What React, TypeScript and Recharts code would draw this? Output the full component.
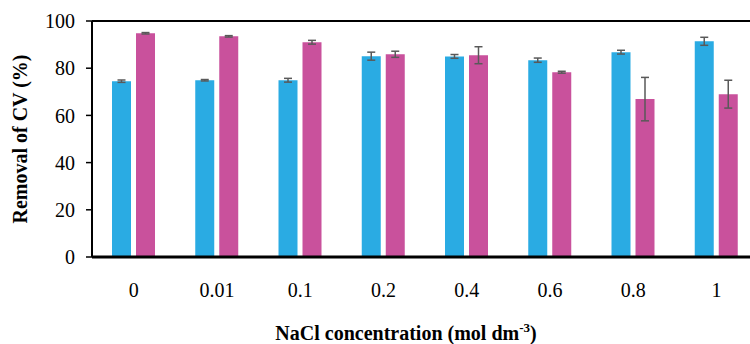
import React from 'react';
import {
  BarChart,
  Bar,
  XAxis,
  YAxis,
  ErrorBar,
  ReferenceLine,
  Label,
} from 'recharts';

// NaCl concentrations (mol dm-3)
const concentrations = ['0', '0.01', '0.1', '0.2', '0.4', '0.6', '0.8', '1'];

// removal of CV (%) for the two series, with their error bars
const blueValues = [74.5, 74.9, 74.9, 85.1, 85.0, 83.4, 86.8, 91.4];
const blueErrors = [0.5, 0.3, 0.8, 1.7, 0.8, 0.9, 0.8, 1.7];
const pinkValues = [94.8, 93.5, 91.0, 85.9, 85.5, 78.3, 66.9, 69.0];
const pinkErrors = [0.3, 0.3, 0.8, 1.3, 3.6, 0.4, 9.2, 5.9];

const yTicks = [0, 20, 40, 60, 80, 100];

const data = concentrations.map((c, i) => ({
  name: c,
  blue: blueValues[i],
  blueErr: blueErrors[i],
  pink: pinkValues[i],
  pinkErr: pinkErrors[i],
}));

const FONT = '"Liberation Serif", "Times New Roman", serif';

function XTitle(props: any) {
  return (
    <text
      x={406}
      y={340}
      textAnchor="middle"
      fontFamily={FONT}
      fontSize={20}
      fontWeight="bold"
      fill="#000"
    >
      NaCl concentration (mol dm
      <tspan dy={-8} fontSize={13}>
        -3
      </tspan>
      <tspan dy={8}>)</tspan>
    </text>
  );
}

export default function App() {
  return (
    <div
      style={{
        position: 'fixed',
        top: 0,
        left: 0,
        width: 750,
        height: 344,
        overflow: 'hidden',
        background: '#fff',
      }}
    >
      <BarChart
        width={768}
        height={344}
        data={data}
        margin={{ top: 21, right: 10, left: 0, bottom: 57 }}
        barSize={19}
        barGap={5}
      >
        <XAxis
          dataKey="name"
          height={30}
          tickLine={false}
          axisLine={{ stroke: '#000', strokeWidth: 3 }}
          tick={{ fontSize: 20, fill: '#000', fontFamily: FONT }}
          tickMargin={20}
        >
          <Label content={<XTitle />} />
        </XAxis>
        <YAxis
          width={92}
          domain={[0, 100]}
          ticks={yTicks}
          interval={0}
          axisLine={{ stroke: '#000', strokeWidth: 2 }}
          tickLine={{ stroke: '#000', strokeWidth: 1.5 }}
          tickSize={6}
          tickMargin={11}
          tick={{ fontSize: 20, fill: '#000', fontFamily: FONT }}
        >
          <Label
            value="Removal of CV (%)"
            angle={-90}
            position="insideLeft"
            offset={20}
            style={{
              textAnchor: 'middle',
              fontFamily: FONT,
              fontSize: 20,
              fontWeight: 'bold',
              fill: '#000',
            }}
          />
        </YAxis>
        <ReferenceLine y={100} stroke="#000" strokeWidth={2} />
        <Bar dataKey="blue" fill="#2AABE3" isAnimationActive={false}>
          <ErrorBar
            dataKey="blueErr"
            width={4}
            stroke="#595959"
            strokeWidth={1.5}
            direction="y"
          />
        </Bar>
        <Bar dataKey="pink" fill="#C9519C" isAnimationActive={false}>
          <ErrorBar
            dataKey="pinkErr"
            width={4}
            stroke="#595959"
            strokeWidth={1.5}
            direction="y"
          />
        </Bar>
      </BarChart>
    </div>
  );
}
